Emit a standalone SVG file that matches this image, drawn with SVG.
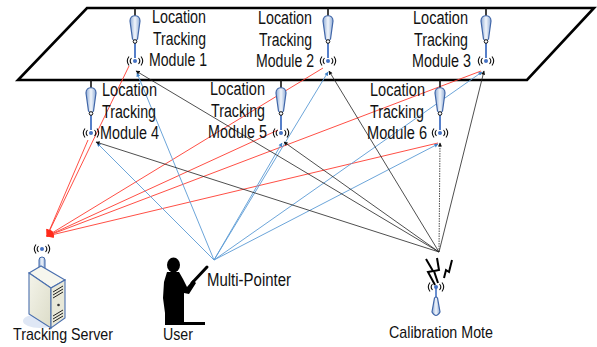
<svg xmlns="http://www.w3.org/2000/svg" width="597" height="347" viewBox="0 0 597 347">
  <defs>
    <style>
      .lbl { font-family: "Liberation Sans", Arial, sans-serif; font-size: 18px; fill: #111; }
      .cap { font-family: "Liberation Sans", Arial, sans-serif; font-size: 17px; fill: #111; }
      .red { stroke: #ff3b30; stroke-width: 0.9; fill: none; }
      .blue { stroke: #5b9bd5; stroke-width: 0.9; fill: none; }
      .blk { stroke: #222; stroke-width: 0.8; fill: none; }
      .arc { stroke: #111; stroke-width: 1.1; fill: none; }
    </style>
    <linearGradient id="bodyGrad" x1="0" y1="0" x2="1" y2="0">
      <stop offset="0" stop-color="#8eabd6"/>
      <stop offset="0.5" stop-color="#f2f6fb"/>
      <stop offset="1" stop-color="#8eabd6"/>
    </linearGradient>
    <linearGradient id="boxGrad" x1="0" y1="0" x2="1" y2="1">
      <stop offset="0" stop-color="#f4f4ea"/>
      <stop offset="1" stop-color="#dcdcc8"/>
    </linearGradient>
    <marker id="ahRed" viewBox="0 0 10 10" refX="9" refY="5" markerWidth="9" markerHeight="7" markerUnits="userSpaceOnUse" orient="auto">
      <path d="M0,0 L10,5 L0,10 Z" fill="#ff2a1a"/>
    </marker>
    <marker id="ahBlue" viewBox="0 0 10 10" refX="9" refY="5" markerWidth="5" markerHeight="4" markerUnits="userSpaceOnUse" orient="auto">
      <path d="M0,0 L10,5 L0,10 Z" fill="#3f82c8"/>
    </marker>
    <marker id="ahBlk" viewBox="0 0 10 10" refX="9" refY="5" markerWidth="5" markerHeight="4" markerUnits="userSpaceOnUse" orient="auto">
      <path d="M0,0 L10,5 L0,10 Z" fill="#111"/>
    </marker>
    <!-- wireless emission mark: blue dot with two arcs on each side -->
    <g id="wifi">
      <path class="arc" d="M-3.5,-3 A4.5,4.5 0 0 0 -3.5,3 M3.5,-3 A4.5,4.5 0 0 1 3.5,3"/>
      <path class="arc" d="M-6,-4.5 A7.5,7.5 0 0 0 -6,4.5 M6,-4.5 A7.5,7.5 0 0 1 6,4.5"/>
      <circle r="2" fill="#4472c4"/>
    </g>
    <!-- ceiling-mounted antenna, origin at the mounting point -->
    <g id="antenna">
      <line x1="0" y1="0" x2="0" y2="8" stroke="#111" stroke-width="1.6"/>
      <line x1="0" y1="34" x2="0" y2="50" stroke="#4472c4" stroke-width="1.8"/>
      <path d="M-5,13 C-5,6 5,6 5,13 L2.5,31 Q0,34.5 -2.5,31 Z" fill="url(#bodyGrad)" stroke="#4066a8" stroke-width="1.2"/>
      <circle cy="33.5" r="1.8" fill="#fff" stroke="#111" stroke-width="1"/>
      <use href="#wifi" y="53"/>
    </g>
  </defs>

  <!-- ceiling plane -->
  <polygon points="87,8 594,8 527,80 18,80" fill="none" stroke="#000" stroke-width="2.6" stroke-linejoin="miter"/>

  <!-- connectors -->
  <g id="connectors">
    <!-- modules report to the tracking server -->
    <line class="red" x1="129" y1="66" x2="47" y2="236" marker-end="url(#ahRed)"/>
    <line class="red" x1="323" y1="68" x2="47" y2="236" marker-end="url(#ahRed)"/>
    <line class="red" x1="481" y1="71" x2="47" y2="236" marker-end="url(#ahRed)"/>
    <line class="red" x1="88" y1="140" x2="47" y2="236" marker-end="url(#ahRed)"/>
    <line class="red" x1="278" y1="130" x2="47" y2="236" marker-end="url(#ahRed)"/>
    <line class="red" x1="438" y1="143" x2="47" y2="236" marker-end="url(#ahRed)"/>
    <!-- multi-pointer signals to every module -->
    <line class="blue" x1="214" y1="260" x2="137" y2="73" marker-end="url(#ahBlue)"/>
    <line class="blue" x1="214" y1="260" x2="328" y2="72" marker-end="url(#ahBlue)"/>
    <line class="blue" x1="214" y1="260" x2="482" y2="72" marker-end="url(#ahBlue)"/>
    <line class="blue" x1="214" y1="260" x2="97" y2="143" marker-end="url(#ahBlue)"/>
    <line class="blue" x1="214" y1="260" x2="282" y2="143" marker-end="url(#ahBlue)"/>
    <line class="blue" x1="214" y1="260" x2="438" y2="144" marker-end="url(#ahBlue)"/>
    <!-- calibration mote signals to every module -->
    <line class="blk" x1="439" y1="252" x2="136" y2="71" marker-end="url(#ahBlk)"/>
    <line class="blk" x1="439" y1="252" x2="329" y2="71" marker-end="url(#ahBlk)"/>
    <line class="blk" x1="439" y1="252" x2="484" y2="71" marker-end="url(#ahBlk)"/>
    <line class="blk" x1="439" y1="252" x2="96" y2="142" marker-end="url(#ahBlk)"/>
    <line class="blk" x1="439" y1="252" x2="284" y2="142" marker-end="url(#ahBlk)"/>
    <line class="blk" x1="439" y1="252" x2="440" y2="143" stroke-dasharray="1.5 1" marker-end="url(#ahBlk)"/>
  </g>

  <!-- location tracking modules -->
  <g id="module1">
    <use href="#antenna" x="135" y="8"/>
    <text class="lbl" x="152" y="23" textLength="54" lengthAdjust="spacingAndGlyphs">Location</text>
    <text class="lbl" x="153" y="45" textLength="53" lengthAdjust="spacingAndGlyphs">Tracking</text>
    <text class="lbl" x="149" y="66" textLength="58" lengthAdjust="spacingAndGlyphs">Module 1</text>
  </g>
  <g id="module2">
    <use href="#antenna" x="328" y="8"/>
    <text class="lbl" x="258" y="24" textLength="54" lengthAdjust="spacingAndGlyphs">Location</text>
    <text class="lbl" x="259" y="46" textLength="53" lengthAdjust="spacingAndGlyphs">Tracking</text>
    <text class="lbl" x="256" y="67" textLength="58" lengthAdjust="spacingAndGlyphs">Module 2</text>
  </g>
  <g id="module3">
    <use href="#antenna" x="486" y="8"/>
    <text class="lbl" x="413" y="24" textLength="55" lengthAdjust="spacingAndGlyphs">Location</text>
    <text class="lbl" x="414" y="46" textLength="54" lengthAdjust="spacingAndGlyphs">Tracking</text>
    <text class="lbl" x="412" y="67" textLength="59" lengthAdjust="spacingAndGlyphs">Module 3</text>
  </g>
  <g id="module4">
    <use href="#antenna" x="91" y="80"/>
    <text class="lbl" x="102" y="96" textLength="55" lengthAdjust="spacingAndGlyphs">Location</text>
    <text class="lbl" x="102" y="118" textLength="54" lengthAdjust="spacingAndGlyphs">Tracking</text>
    <text class="lbl" x="100" y="139" textLength="59" lengthAdjust="spacingAndGlyphs">Module 4</text>
  </g>
  <g id="module5">
    <use href="#antenna" x="281" y="80"/>
    <text class="lbl" x="210" y="95" textLength="55" lengthAdjust="spacingAndGlyphs">Location</text>
    <text class="lbl" x="211" y="117" textLength="54" lengthAdjust="spacingAndGlyphs">Tracking</text>
    <text class="lbl" x="208" y="138" textLength="59" lengthAdjust="spacingAndGlyphs">Module 5</text>
  </g>
  <g id="module6">
    <use href="#antenna" x="440" y="80"/>
    <text class="lbl" x="370" y="96" textLength="55" lengthAdjust="spacingAndGlyphs">Location</text>
    <text class="lbl" x="370" y="118" textLength="54" lengthAdjust="spacingAndGlyphs">Tracking</text>
    <text class="lbl" x="367" y="139" textLength="60" lengthAdjust="spacingAndGlyphs">Module 6</text>
  </g>

  <!-- tracking server -->
  <g id="server">
    <ellipse cx="40" cy="321" rx="17" ry="7" fill="#dfe7f5"/>
    <use href="#wifi" x="42" y="249"/>
    <rect x="39" y="257" width="6" height="22" rx="3" fill="url(#bodyGrad)" stroke="#4066a8" stroke-width="1"/>
    <polygon points="29,273 41,266 65,280 51,288" fill="#f6f6ee" stroke="#4a6fae" stroke-width="1.1"/>
    <polygon points="29,273 51,288 51,328 29,314" fill="url(#boxGrad)" stroke="#4a6fae" stroke-width="1.1"/>
    <polygon points="51,288 65,280 65,318 51,328" fill="#e8e8d8" stroke="#4a6fae" stroke-width="1.1"/>
    <g stroke="#222" stroke-width="1">
      <line x1="53" y1="292" x2="63" y2="286"/>
      <line x1="53" y1="295" x2="63" y2="289"/>
      <line x1="53" y1="298" x2="63" y2="292"/>
      <line x1="53" y1="316" x2="63" y2="310"/>
      <line x1="53" y1="319" x2="63" y2="313"/>
      <line x1="53" y1="322" x2="63" y2="316"/>
    </g>
    <circle cx="58.5" cy="305" r="1.3" fill="#333"/>
    <text class="cap" x="13" y="340" textLength="100" lengthAdjust="spacingAndGlyphs">Tracking Server</text>
  </g>

  <!-- user holding the multi-pointer -->
  <g id="user">
    <ellipse cx="173.5" cy="265" rx="6.5" ry="7.5" fill="#000"/>
    <path d="M167,272 L179,272 L183,279 L187,287 L193,280 L196,283 L189,294 L184,293 L184,322 L205,322 L205,325 L165,325 L165,313 L163,298 L164,282 Z" fill="#000"/>
    <line x1="192" y1="283" x2="207" y2="267" stroke="#000" stroke-width="3" stroke-linecap="round"/>
    <text class="cap" x="163" y="340" textLength="30" lengthAdjust="spacingAndGlyphs">User</text>
  </g>

  <g id="multipointer">
    <text class="lbl" x="207" y="286" textLength="84" lengthAdjust="spacingAndGlyphs">Multi-Pointer</text>
  </g>

  <!-- calibration mote -->
  <g id="calibration">
    <g stroke="#000" stroke-width="2" fill="none" stroke-linejoin="miter">
      <polyline points="426,259 433,271 428,272 435,285"/>
      <polyline points="437,258 439,270 434,271 438,283"/>
      <polyline points="452,260 449,272 446,270 444,278"/>
    </g>
    <use href="#wifi" x="436" y="287"/>
    <line x1="436" y1="288" x2="436" y2="299" stroke="#4472c4" stroke-width="1.6"/>
    <path d="M434.5,298 Q436,296 437.5,298 L440,312 Q436,319 432,312 Z" fill="url(#bodyGrad)" stroke="#4066a8" stroke-width="1.2"/>
    <text class="cap" x="389" y="338" textLength="104" lengthAdjust="spacingAndGlyphs">Calibration Mote</text>
  </g>
</svg>
